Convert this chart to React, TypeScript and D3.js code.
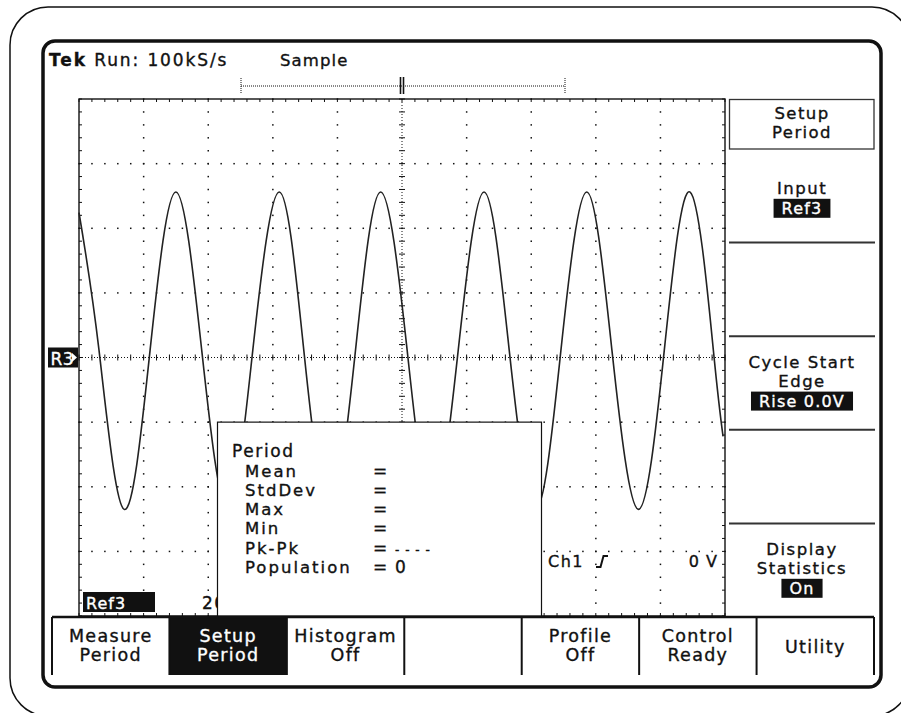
import React, { useEffect, useRef } from "react";
import * as d3 from "d3";

// waveform (time and level in graticule divisions)
const waveTime = [0.0, 0.31, 0.70, 1.10, 1.50, 1.90, 2.30, 2.69, 3.10, 3.48, 3.88, 4.28, 4.67, 5.08, 5.47, 5.87, 6.27, 6.66, 7.07, 7.46, 7.86, 8.25, 8.66, 9.06, 9.46, 9.82, 9.97];
const waveLevel = [2.24, 0.11, -2.35, 0.11, 2.56, 0.11, -2.35, 0.11, 2.56, 0.11, -2.35, 0.11, 2.56, 0.11, -2.35, 0.11, 2.56, 0.11, -2.35, 0.11, 2.56, 0.11, -2.35, 0.11, 2.56, 0.11, -1.22];

// menus and readouts
const bottomMenu = [["Measure", "Period"], ["Setup", "Period"], ["Histogram", "Off"], [], ["Profile", "Off"], ["Control", "Ready"], ["Utility"]];
const activeButton = 1;
const sideTitle = ["Setup", "Period"];
const sideSlots = [
  { lines: ["Input"], value: "Ref3" },
  { lines: [], value: "" },
  { lines: ["Cycle Start", "Edge"], value: "Rise 0.0V" },
  { lines: [], value: "" },
  { lines: ["Display", "Statistics"], value: "On" },
];
const statNames = ["Mean", "StdDev", "Max", "Min", "Pk-Pk", "Population"];
const statValues = ["", "", "", "", "- - - -", "0"];
const headerText = ["Tek", " Run: 100kS/s"];
const acqMode = "Sample";
const refLabel = "Ref3";
const timeBase = "200µs";
const trigSource = "Ch1";
const trigLevel = "0  V";

const FONT = "DejaVu Sans";
const INK = "#111";

const App = () => {
  const svgRef = useRef<SVGSVGElement>(null);

  useEffect(() => {
    const svg = d3.select(svgRef.current);
    svg.selectAll("*").remove();

    // screen font is a heavy bitmap face, so thicken glyphs a little
    const text = (px: number, py: number, s: string, size = 17, anchor = "start", fill = INK, ls = 1.6) =>
      svg.append("text")
        .attr("x", px).attr("y", py)
        .attr("font-family", FONT).attr("font-size", size)
        .attr("letter-spacing", ls)
        .attr("text-anchor", anchor)
        .attr("fill", fill)
        .attr("stroke", fill).attr("stroke-width", 0.35)
        .text(s);

    // reversed (white on black) label, centred on px
    const badge = (px: number, py: number, s: string, size = 16) => {
      const r = svg.append("rect").attr("fill", INK);
      const t = text(px, py, s, size, "middle", "#fff", 1.2);
      const w = (t.node() as SVGTextElement).getComputedTextLength();
      r.attr("x", px - w / 2 - 8).attr("y", py - 15).attr("width", w + 16).attr("height", 19);
      t.raise();
    };

    svg.append("rect").attr("width", 901).attr("height", 713).attr("fill", "#fff");

    // bezels
    svg.append("rect").attr("x", 10).attr("y", 7).attr("width", 900).attr("height", 709)
      .attr("rx", 38).attr("fill", "none").attr("stroke", INK).attr("stroke-width", 1.5);
    svg.append("rect").attr("x", 43).attr("y", 41).attr("width", 838).attr("height", 646)
      .attr("rx", 12).attr("fill", "none").attr("stroke", INK).attr("stroke-width", 3.5);

    // graticule scales: 10 x 8 divisions
    const x = d3.scaleLinear().domain([0, 10]).range([79, 725]);
    const y = d3.scaleLinear().domain([-4, 4]).range([616, 99]);
    const minorX = d3.range(0, 10.001, 0.2);
    const minorY = d3.range(-4, 4.001, 0.2);

    const grid = svg.append("g").attr("fill", INK);
    d3.range(1, 10).filter(k => k !== 5).forEach(k => {
      grid.selectAll(null).data(minorY).join("rect")
        .attr("x", x(k) - 0.7).attr("y", d => y(d) - 0.7).attr("width", 1.5).attr("height", 1.5);
    });
    d3.range(-3, 4).filter(k => k !== 0).forEach(k => {
      grid.selectAll(null).data(minorX).join("rect")
        .attr("x", d => x(d) - 0.7).attr("y", y(k) - 0.7).attr("width", 1.5).attr("height", 1.5);
    });

    const ticks = svg.append("g").attr("stroke", INK).attr("stroke-width", 1);
    minorX.forEach(d => {
      ticks.append("line").attr("x1", x(d)).attr("x2", x(d)).attr("y1", y(4)).attr("y2", y(4) + 3);
      ticks.append("line").attr("x1", x(d)).attr("x2", x(d)).attr("y1", y(-4)).attr("y2", y(-4) - 3);
      ticks.append("line").attr("x1", x(d)).attr("x2", x(d)).attr("y1", y(0) - 3).attr("y2", y(0) + 3);
    });
    minorY.forEach(d => {
      ticks.append("line").attr("y1", y(d)).attr("y2", y(d)).attr("x1", x(0)).attr("x2", x(0) + 3);
      ticks.append("line").attr("y1", y(d)).attr("y2", y(d)).attr("x1", x(10)).attr("x2", x(10) - 3);
      ticks.append("line").attr("y1", y(d)).attr("y2", y(d)).attr("x1", x(5) - 3).attr("x2", x(5) + 3);
    });
    // centre cross
    ticks.append("line").attr("x1", x(0)).attr("x2", x(10)).attr("y1", y(0)).attr("y2", y(0))
      .attr("stroke-dasharray", "1,2");
    ticks.append("line").attr("x1", x(5)).attr("x2", x(5)).attr("y1", y(4)).attr("y2", y(-4))
      .attr("stroke-dasharray", "1,2");

    svg.append("rect").attr("x", x(0)).attr("y", y(4)).attr("width", x(10) - x(0)).attr("height", y(-4) - y(4))
      .attr("fill", "none").attr("stroke", INK).attr("stroke-width", 1.4);

    // record view bar
    const bar = svg.append("g").attr("stroke", INK);
    bar.append("line").attr("x1", 241).attr("x2", 565).attr("y1", 86).attr("y2", 86).attr("stroke-dasharray", "1,1");
    [241, 565].forEach(v => bar.append("line").attr("x1", v).attr("x2", v).attr("y1", 78).attr("y2", 94).attr("stroke-dasharray", "1,1"));
    [400.5, 403.5].forEach(v => bar.append("line").attr("x1", v).attr("x2", v).attr("y1", 77).attr("y2", 94).attr("stroke-width", 1.6));

    // waveform
    const pts = waveTime.map((t, i) => [t, waveLevel[i]] as [number, number]);
    const line = d3.line<[number, number]>().x(d => x(d[0])).y(d => y(d[1])).curve(d3.curveNatural);
    svg.append("path").datum(pts).attr("d", line).attr("fill", "none")
      .attr("stroke", "#222").attr("stroke-width", 1.6);

    // header
    const hdr = text(49, 65.5, "", 17, "start", INK, 1.9);
    hdr.append("tspan").attr("font-weight", "bold").text(headerText[0]);
    hdr.append("tspan").text(headerText[1]);
    text(280, 65.5, acqMode, 16.5, "start", INK, 1.1);

    // R3 ground marker
    svg.append("rect").attr("x", 48).attr("y", y(0) - 10).attr("width", 30).attr("height", 20).attr("fill", INK);
    text(50.5, y(0) + 7, "R3", 17, "start", "#fff", 0.5);
    svg.append("path").attr("d", `M72,${y(0) - 4.5}L77,${y(0)}L72,${y(0) + 4.5}Z`).attr("fill", "#fff");

    // readouts under graticule
    svg.append("rect").attr("x", 83).attr("y", 592).attr("width", 72).attr("height", 20).attr("fill", INK);
    text(86, 609, refLabel, 16, "start", "#fff", 1);
    text(202, 609, timeBase, 17, "start", INK, 1.5);
    text(548, 567, trigSource, 16, "start", INK, 1.5);
    svg.append("path").attr("d", "M596,567H600.5L603.5,556H608").attr("fill", "none").attr("stroke", INK).attr("stroke-width", 2);
    text(718, 567, trigLevel, 16, "end", INK, 1);

    // statistics window
    svg.append("rect").attr("x", 217.5).attr("y", y(-1)).attr("width", 324).attr("height", y(-4) - y(-1))
      .attr("fill", "#fff").attr("stroke", INK).attr("stroke-width", 1.2);
    text(232, 457, "Period", 17, "start", INK, 1.6);
    statNames.forEach((n, i) => {
      const py = 476.5 + i * 19.3;
      text(245, py, n, 16.5, "start", INK, 2);
      text(373, py, "=", 17, "start", INK, 1);
      if (statValues[i]) text(395, py, statValues[i], statValues[i] === "0" ? 17 : 12, "start", INK, 1);
    });

    // side menu
    const cx = 802;
    svg.append("rect").attr("x", 729.5).attr("y", 99.5).attr("width", 144.5).attr("height", 49.5)
      .attr("fill", "none").attr("stroke", "#333").attr("stroke-width", 1.3);
    text(cx, 118.5, sideTitle[0], 16.5, "middle", INK, 1.4);
    text(cx, 137.5, sideTitle[1], 16.5, "middle", INK, 1.4);
    const slot = d3.scaleLinear().domain([0, 5]).range([149, 617]);
    sideSlots.forEach((s, i) => {
      if (i > 0) svg.append("line").attr("x1", 729).attr("x2", 875).attr("y1", slot(i)).attr("y2", slot(i))
        .attr("stroke", "#333").attr("stroke-width", 2);
      if (!s.value) return;
      const mid = (slot(i) + slot(i + 1)) / 2;
      const top = s.lines.length === 1 ? mid - 2 : mid - 15;
      s.lines.forEach((l, j) => text(cx, top + j * 18.6, l, 16.5, "middle", INK, 1.5));
      badge(cx, top + (s.lines.length - 1) * 18.6 + 20, s.value, 16);
    });

    // bottom menu
    const btn = d3.scaleLinear().domain([0, bottomMenu.length]).range([52, 874]);
    svg.append("rect").attr("x", btn(activeButton)).attr("y", 617).attr("width", btn(1) - btn(0)).attr("height", 58).attr("fill", INK);
    svg.append("line").attr("x1", 52).attr("x2", 874).attr("y1", 617).attr("y2", 617).attr("stroke", INK).attr("stroke-width", 2.5);
    d3.range(0, bottomMenu.length + 1).forEach(i => {
      svg.append("line").attr("x1", btn(i)).attr("x2", btn(i)).attr("y1", 617).attr("y2", 675)
        .attr("stroke", INK).attr("stroke-width", 2);
    });
    bottomMenu.forEach((lines, i) => {
      const mx = (btn(i) + btn(i + 1)) / 2;
      const col = i === activeButton ? "#fff" : INK;
      if (lines.length === 1) text(mx, 653, lines[0], 17.5, "middle", col, 1.3);
      else lines.forEach((l, j) => text(mx, 642 + j * 19, l, 17.5, "middle", col, 1.3));
    });
  }, []);

  return (
    <svg ref={svgRef} width={901} height={713}
      style={{ position: "absolute", left: 0, top: 0, display: "block" }} />
  );
};

export default App;
